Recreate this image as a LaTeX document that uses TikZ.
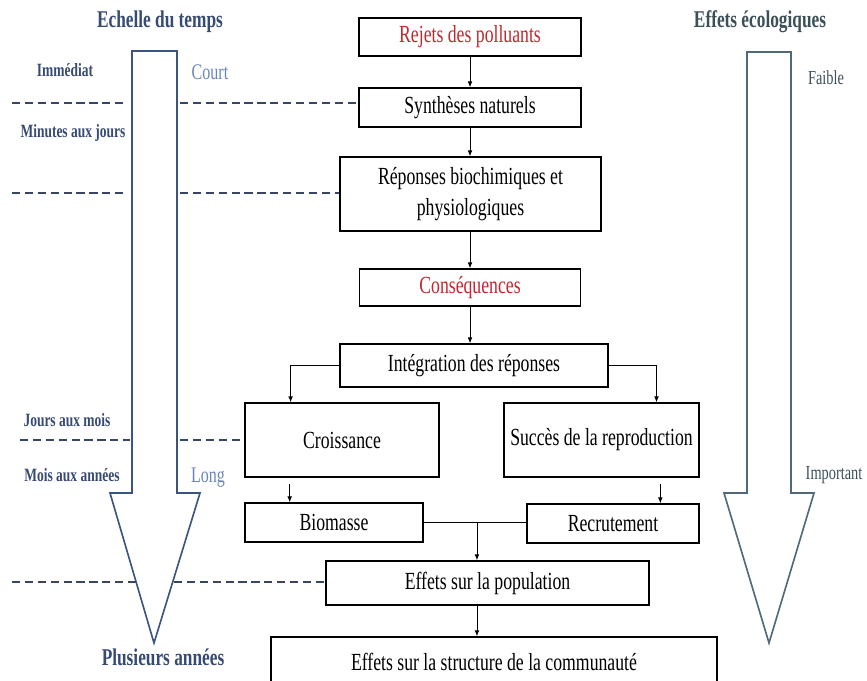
\documentclass[tikz,border=0pt]{standalone}
\usepackage{fontspec}
\setmainfont{Liberation Serif}[FakeStretch=0.72]
\usepackage{tikz}
\usetikzlibrary{positioning, calc, arrows.meta}

\definecolor{polred}{RGB}{192,40,45}
\definecolor{timeblue}{RGB}{55,75,115}
\definecolor{lightblue}{RGB}{105,135,180}
\definecolor{timearrow}{RGB}{60,85,128}
\definecolor{dashblue}{RGB}{55,70,100}
\definecolor{ecoarrow}{RGB}{80,105,120}
\definecolor{ecotext}{RGB}{60,80,90}

\begin{document}
\begin{tikzpicture}[x=0.03cm, y=-0.03cm]
  \tikzstyle{box}=[draw, line width=1.2pt, inner sep=2pt, align=center, font=\fontsize{21}{27}\selectfont]
  \tikzstyle{flow}=[-{Latex[length=5pt,width=4pt]}, line width=0.7pt]
  \tikzstyle{timeline}=[draw=dashblue, line width=1.6pt, dash pattern=on 7pt off 4pt]
  \tikzstyle{bigarrow}=[line width=1.4pt, line join=miter]
  \tikzstyle{scalelbl}=[font=\bfseries\fontsize{16}{18}\selectfont, text=timeblue]
  \tikzstyle{title}=[font=\bfseries\fontsize{20.5}{22}\selectfont]
  \tikzstyle{coord}=[inner sep=0pt, outer sep=0pt]

  \clip (0,0) rectangle (867,681);

  % flow chart boxes
  \node[box, minimum width=6.66cm, minimum height=1.14cm] (rejets) at (470,37) {\textcolor{polred}{Rejets des polluants}};
  \node[box, minimum width=6.66cm, minimum height=1.17cm] (synth) at (470,107.5) {Synthèses naturels};
  \node[box, minimum width=7.83cm, minimum height=2.22cm] (reponses) at (470.5,194) {Réponses biochimiques et\\ physiologiques};
  \node[box, minimum width=6.63cm, minimum height=1.11cm] (conseq) at (470,287.5) {\textcolor{polred}{Conséquences}};
  \node[box, minimum width=8.04cm, minimum height=1.29cm] (integ) at (474,365.5) {Intégration des réponses};
  \node[box, minimum width=5.82cm, minimum height=2.22cm] (croiss) at (342,440) {Croissance};
  \node[box, minimum width=5.85cm, minimum height=2.22cm] (succes) at (601.5,440) {Succès de la reproduction};
  \node[box, minimum width=5.34cm, minimum height=1.17cm] (biomasse) at (334,522.5) {Biomasse};
  \node[box, minimum width=5.16cm, minimum height=1.17cm] (recrut) at (613,523.5) {Recrutement};
  \node[box, minimum width=9.69cm, minimum height=1.32cm] (popul) at (487.5,583) {Effets sur la population};
  \node[box, minimum width=13.38cm, minimum height=1.5cm] (commun) at (494,662) {Effets sur la structure de la communauté};

  % arrows between boxes
  \draw[flow] (rejets) -- (synth);
  \draw[flow] (synth) -- (synth.south |- reponses.north);
  \draw[flow] (synth.south |- reponses.south) -- (conseq);
  \draw[flow] (conseq) -- (conseq.south |- integ.north);
  \draw[flow] (integ.west) -| ($(croiss.north west)!0.237!(croiss.north east)$);
  \draw[flow] (integ.east) -| ($(succes.north west)!0.78!(succes.north east)$);
  \coordinate (bioin) at ($(biomasse.north west)!0.253!(biomasse.north east)$);
  \coordinate (recin) at ($(recrut.north west)!0.773!(recrut.north east)$);
  \draw[flow, shorten <=5pt] (croiss.south -| bioin) -- (bioin);
  \draw[flow, shorten <=5pt] (succes.south -| recin) -- (recin);
  \draw[line width=0.7pt] (biomasse.east) -- (biomasse.east -| recrut.west);
  \node (join) at ($(biomasse.east)!0.519!(biomasse.east -| recrut.west)$) [coord] {};
  \draw[flow] (join) -- (join |- popul.north);
  \draw[flow] (popul.south -| join) -- (commun.north -| join);

  % time scale arrow
  \draw[bigarrow, draw=timearrow] (132,51) -- (177,51) -- (177,493) -- (200,493) -- (154,643) -- (110,493) -- (132,493) -- cycle;
  \node[title, text=timeblue] (tempstitle) at (160,22) {Echelle du temps};
  \node[scalelbl] (immed) at (65,70) {Immédiat};
  \node[scalelbl] (minjours) at (73,133) {Minutes aux jours};
  \node[scalelbl] (joursmois) at (67,420) {Jours aux mois};
  \node[scalelbl] (moisans) at (72,475) {Mois aux années};
  \node[title, text=timeblue] (plusans) at (163,657) {Plusieurs années};
  \node[text=lightblue, font=\fontsize{19}{21}\selectfont] (court) at (210,72) {Court};
  \node[text=lightblue, font=\fontsize{19}{21}\selectfont] (long) at (208,478) {Long};

  % time levels
  \coordinate (lvla) at (0,103);
  \coordinate (lvlb) at (0,193);
  \coordinate (lvlc) at (0,440);
  \coordinate (lvld) at (0,582);
  \draw[timeline] (12,103) -- (127,103);
  \draw[timeline] (180,103) -- (synth.west |- lvla);
  \draw[timeline] (12,193) -- (127,193);
  \draw[timeline] (180,193) -- (reponses.west |- lvlb);
  \draw[timeline] (20,440) -- (130,440);
  \draw[timeline] (180,440) -- (croiss.west |- lvlc);
  \draw[timeline] (12,582) -- (136,582);
  \draw[timeline] (174,582) -- (popul.west |- lvld);

  % ecological effects arrow
  \draw[bigarrow, draw=ecoarrow] (747,52) -- (791,52) -- (791,493) -- (814,493) -- (769,643) -- (724,493) -- (747,493) -- cycle;
  \node[title, text=ecotext] (ecotitle) at (760,22) {Effets écologiques};
  \node[text=ecotext, font=\fontsize{17}{19}\selectfont] (faible) at (826,78) {Faible};
  \node[text=ecotext, font=\fontsize{17}{19}\selectfont] (important) at (834,475) {Important};
\end{tikzpicture}
\end{document}
